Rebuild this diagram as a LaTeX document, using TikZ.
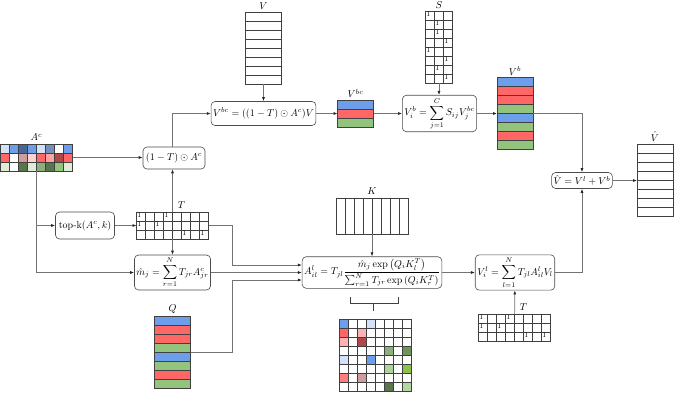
\documentclass[tikz,border=0pt]{standalone}
\usepackage{amsmath,amssymb}
\usepackage{xcolor}
\usepackage{tikz}
\usetikzlibrary{arrows.meta,positioning,calc}
\definecolor{cblue}{HTML}{6D9EEB}
\definecolor{cred}{HTML}{FF6666}
\definecolor{cgreen}{HTML}{93C47D}
\definecolor{cgreenb}{HTML}{8BC34A}
\newcommand{\matgrid}[3]{%
  \ifnum#2>1\relax \foreach \k in {2,...,#2} \draw[matline] ($(#1.north west)+({(\k-1)*9},0)$) -- ($(#1.south west)+({(\k-1)*9},0)$);\fi
  \ifnum#3>1\relax \foreach \k in {2,...,#3} \draw[matline] ($(#1.north west)+(0,{-(\k-1)*9})$) -- ($(#1.north east)+(0,{-(\k-1)*9})$);\fi
  \draw[matline] (#1.north west) rectangle (#1.south east)}
\newcommand{\cellat}[4]{\fill[#4] ($(#1.north west)+({(#2-1)*9},{-(#3-1)*9})$) rectangle ++(9,-9)}
\newcommand{\rowat}[3]{\fill[#3] ($(#1.north west)+(0,{-(#2-1)*9})$) rectangle ($(#1.north east)+(0,{-#2*9})$)}
\newcommand{\oneat}[3]{\node[font=\scriptsize,anchor=north west,inner sep=0.6pt] at ($(#1.north west)+({(#2-1)*9},{-(#3-1)*9})$) {1}}

\begin{document}
\begin{tikzpicture}[x=1pt,y=1pt,>={Latex[length=4pt,width=3pt,black!85]},
  box/.style={draw=black!70,rounded corners=4pt,line width=0.6pt,fill=white,inner sep=2pt},
  mat/.style={draw=black!75,line width=0.5pt,inner sep=0pt,outer sep=0pt,fill=white},
  matline/.style={draw=black!75,line width=0.5pt},
  link/.style={->,draw=black!55,line width=0.7pt},
  lbl/.style={inner sep=1pt}]
\useasboundingbox (0,0) rectangle (677,-392);
% matrices
\node[mat,minimum width=72pt,minimum height=27pt] (ac) at (36.5,-157.5) {};
\node[lbl,above=2pt of ac] {$A^c$};
\foreach \c [count=\i] in {cblue!30,cblue,cblue!65!black,cblue,cblue!30,cblue!55!gray,white,cblue} {\cellat{ac}{\i}{1}{\c};}
\foreach \c [count=\i] in {cred,white,cred!45!gray!70,cred!30,cred,cred!60,cred!70!black,cred} {\cellat{ac}{\i}{2}{\c};}
\foreach \c [count=\i] in {cgreen!30,white,cgreen!60!black,cgreen!30,cgreen!70!gray,cgreen!60!black,cgreen,cgreen!30} {\cellat{ac}{\i}{3}{\c};}
\matgrid{ac}{8}{3};

\node[mat,minimum width=72pt,minimum height=27pt] (tsel) at (172.5,-225.5) {};
\node[lbl,above=2pt of tsel,xshift=9pt] {$T$};
\matgrid{tsel}{8}{3};
\foreach \cc/\rr in {1/1,4/1,1/2,3/2,6/3,8/3} {\oneat{tsel}{\cc}{\rr};}

\node[mat,minimum width=72pt,minimum height=27pt] (tsel2) at (514.5,-327.5) {};
\node[lbl,above=2pt of tsel2,xshift=9pt] {$T$};
\matgrid{tsel2}{8}{3};
\foreach \cc/\rr in {1/1,4/1,1/2,3/2,6/3,8/3} {\oneat{tsel2}{\cc}{\rr};}

\node[mat,minimum width=36pt,minimum height=72pt] (vmat) at (263.5,-48) {};
\node[lbl,above=1pt of vmat] {$V$};
\matgrid{vmat}{1}{8};

\node[mat,minimum width=27pt,minimum height=72pt] (smat) at (439,-47) {};
\node[lbl,above=1pt of smat] {$S$};
\matgrid{smat}{3}{8};
\foreach \cc [count=\rr] in {1,2,2,3,1,3,2,3} {\oneat{smat}{\cc}{\rr};}

\node[mat,minimum width=36pt,minimum height=27pt] (vbc) at (355.5,-113.5) {};
\node[lbl,above=1pt of vbc] {$V^{bc}$};
\foreach \c [count=\i] in {cblue,cred,cgreen} {\rowat{vbc}{\i}{\c};}
\matgrid{vbc}{1}{3};

\node[mat,minimum width=36pt,minimum height=72pt] (vb) at (515,-113.5) {};
\node[lbl,above=1pt of vb] {$V^b$};
\foreach \c [count=\i] in {cblue,cred,cred,cgreen,cblue,cgreen,cred,cgreen} {\rowat{vb}{\i}{\c};}
\matgrid{vb}{1}{8};

\node[mat,minimum width=36pt,minimum height=72pt] (vhat) at (655,-180.5) {};
\node[lbl,above=2pt of vhat] {$\hat{V}$};
\matgrid{vhat}{1}{8};

\node[mat,minimum width=72pt,minimum height=36pt] (kmat) at (372,-216) {};
\node[lbl,above=2pt of kmat] {$K$};
\matgrid{kmat}{8}{1};

\node[mat,minimum width=36pt,minimum height=72pt] (qmat) at (172.5,-352.5) {};
\node[lbl,above=2pt of qmat] {$Q$};
\foreach \c [count=\i] in {cblue,cred,cred,cgreen,cblue,cgreen,cred,cgreen} {\rowat{qmat}{\i}{\c};}
\matgrid{qmat}{1}{8};

\node[mat,minimum width=72pt,minimum height=72pt] (amat) at (375,-355) {};
\foreach \cc/\rr/\c in {1/1/cblue,4/1/cblue!30,1/2/cred,3/2/cred!50,1/3/cred!50,3/3/cred!70!black,
  6/4/cgreen!70!gray,8/4/cgreen!75!black,1/5/cblue!30,4/5/cblue,6/6/cgreen!75,8/6/cgreenb,
  1/7/cred!85,3/7/cred!45!gray!70,6/8/cgreen!60!black,8/8/cgreen!70} {\cellat{amat}{\cc}{\rr}{\c};}
\matgrid{amat}{8}{8};
\draw[matline] ($(amat.north)+(-25,22)$) -- ++(0,-6) -- ++(48,0) -- ++(0,6);
\draw[matline] ($(amat.north)+(-1.5,16)$) -- ++(0,-8);

% operation boxes
\node[box,minimum width=62pt,minimum height=22pt] (omt) at (174,-158) {$(1-T)\odot A^c$};
\node[box,minimum width=59pt,minimum height=27pt] (topk) at (85,-225.5) {top-k$(A^c,k)$};
\node[box,minimum width=65pt,minimum height=28pt] (mj) at (172.5,-272.5) {$\displaystyle \hat{m}_j=\sum_{r=1}^{N}T_{jr}A^c_{jr}$};
\node[box,minimum width=95pt,minimum height=24pt] (vbcf) at (263.5,-113.5) {$V^{bc}=((1-T)\odot A^c)V$};
\node[box,minimum width=73pt,minimum height=31pt] (vbf) at (439.5,-113.5) {$\displaystyle V^b_i=\sum_{j=1}^{C}S_{ij}V^{bc}_j$};
\node[box,minimum width=122pt,minimum height=31pt] (alf) at (372,-272.5) {$\displaystyle A^l_{il}=T_{jl}\frac{\hat{m}_j\exp\left(Q_iK_l^T\right)}{\sum_{r=1}^{N}T_{jr}\exp\left(Q_iK_r^T\right)}$};
\node[box,minimum width=72pt,minimum height=30pt] (vlf) at (515,-272.5) {$\displaystyle V^l_i=\sum_{l=1}^{N}T_{jl}A^l_{il}V_l$};
\node[box,minimum width=54pt,minimum height=16pt] (vhf) at (582,-180.5) {$\hat{V}=V^l+V^b$};
\coordinate (jn) at (232,0);

% connectors
\draw[link] (ac.east) -- (ac.east -| omt.west);
\draw[link] (ac.south) |- (topk.west);
\draw[link] (ac.south) |- (mj.west);
\draw[link] (topk) -- (tsel);
\draw[link] (tsel.north) -- (tsel.north |- omt.south);
\draw[link] (tsel.south) -- (tsel.south |- mj.north);
\draw[link] (tsel.north |- omt.north) |- (vbcf.west);
\draw[link] (vmat) -- (vbcf);
\draw[link] (vbcf) -- (vbc);
\draw[link] (vbc) -- (vbf);
\draw[link] (smat) -- (smat |- vbf.north);
\draw[link] (vbf) -- (vb);
\draw[link] (vb.east) -| (vhf.north);
\draw[link] (vhf.east) -- (vhf.east -| vhat.west);
\draw[link] (tsel.east) -- (tsel.east -| jn) |- ([yshift=7.5pt]alf.west);
\draw[link] (mj) -- (alf);
\draw[link] (qmat.east) -- (qmat.east -| jn) |- ([yshift=-7.5pt]alf.west);
\draw[link] (kmat) -- (alf);
\draw[link] (alf) -- (vlf);
\draw[link] (tsel2) -- (vlf);
\draw[link] (vlf.east) -| (vhf.south);
\end{tikzpicture}
\end{document}
